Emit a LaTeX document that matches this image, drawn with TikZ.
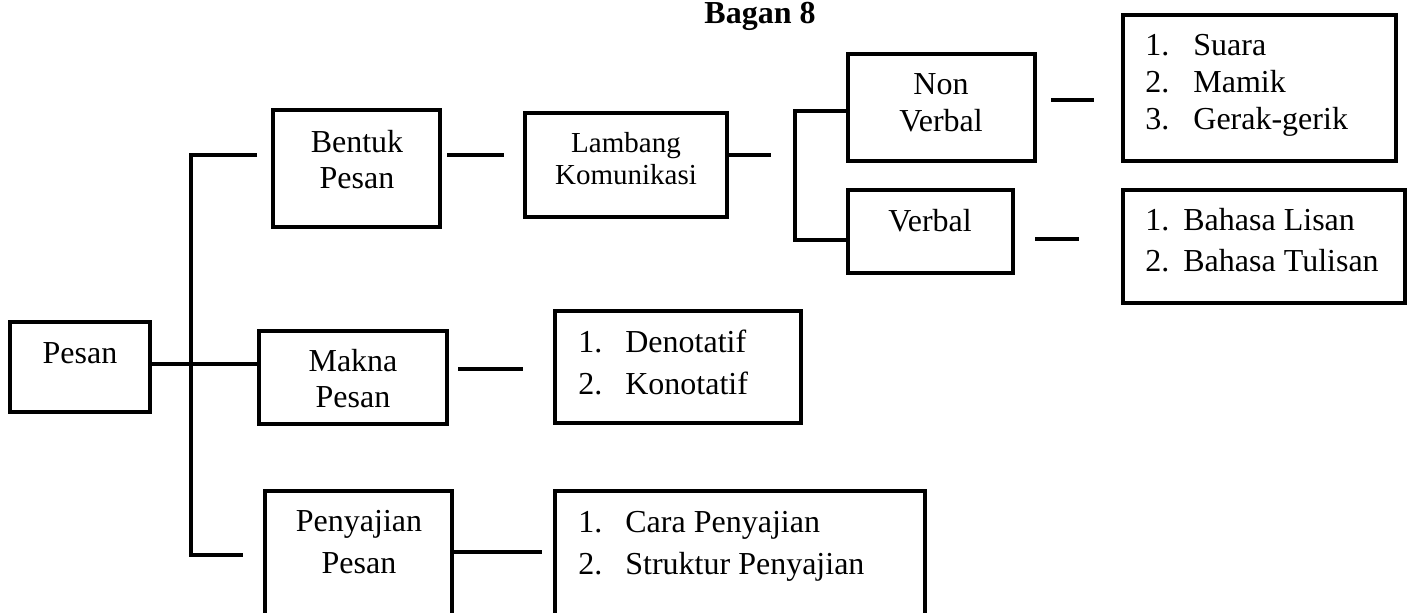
\documentclass[tikz,border=0pt]{standalone}
\usepackage{fontspec}
\setmainfont{Liberation Serif}
\begin{document}
\begin{tikzpicture}[x=0.5pt,y=-0.5pt,
  box/.style={draw, line width=2.3pt, inner sep=0pt, line join=miter},
  conn/.style={line width=2.3pt, line join=miter},
  ctxt/.style={inner sep=0pt, anchor=base},
  ltxt/.style={inner sep=0pt, anchor=base west}]
\useasboundingbox (0,0) rectangle (1409,612);

% title
\node[ctxt, font=\fontsize{16}{18}\selectfont\bfseries] (title) at (760,23) {Bagan 8};

% boxes
\node[box, minimum width=70pt, minimum height=45pt] (pesan) at (80,367) {};
\node[box, minimum width=83.5pt, minimum height=58.5pt] (bentuk) at (356.5,168.5) {};
\node[box, minimum width=101pt, minimum height=52pt] (lambang) at (626,165) {};
\node[box, minimum width=93.5pt, minimum height=53.5pt] (nonverbal) at (941.5,107.5) {};
\node[box, minimum width=82.5pt, minimum height=41.5pt] (verbal) at (930.5,231.5) {};
\node[box, minimum width=136.5pt, minimum height=73pt] (listnv) at (1259.5,88) {};
\node[box, minimum width=141pt, minimum height=56.5pt] (listv) at (1264,246.5) {};
\node[box, minimum width=94pt, minimum height=46.5pt] (makna) at (353,377.5) {};
\node[box, minimum width=93.5pt, minimum height=74.5pt] (penyajian) at (358.5,565.5) {};
\node[box, minimum width=123pt, minimum height=56pt] (listm) at (678,367) {};
\node[box, minimum width=185pt, minimum height=74.5pt] (listp) at (740,565.5) {};

% texts
\node[ctxt, font=\fontsize{16}{18}\selectfont] (pesan-t) at (80,363) {Pesan};
\node[ctxt, font=\fontsize{16}{18}\selectfont] (bentuk-t) at (357,152)
  {\begin{tabular}[t]{@{}c@{}}Bentuk\\Pesan\end{tabular}};
\node[ctxt, font=\fontsize{14.5}{16.25}\selectfont] (lambang-t) at (626,152)
  {\begin{tabular}[t]{@{}c@{}}Lambang\\Komunikasi\end{tabular}};
\node[ctxt, font=\fontsize{16}{18.5}\selectfont] (nonverbal-t) at (941,94)
  {\begin{tabular}[t]{@{}c@{}}Non\\Verbal\end{tabular}};
\node[ctxt, font=\fontsize{16}{18}\selectfont] (verbal-t) at (930,231) {Verbal};
\node[ctxt, font=\fontsize{16}{18}\selectfont] (makna-t) at (353,371)
  {\begin{tabular}[t]{@{}c@{}}Makna\\Pesan\end{tabular}};
\node[ctxt, font=\fontsize{16}{21}\selectfont] (penyajian-t) at (359,531)
  {\begin{tabular}[t]{@{}c@{}}Penyajian\\Pesan\end{tabular}};

\node[ltxt, font=\fontsize{16}{18.5}\selectfont] (listnv-t) at (1145,55)
  {\begin{tabular}[t]{@{}p{24pt}@{}l@{}}1.&Suara\\2.&Mamik\\3.&Gerak-gerik\end{tabular}};
\node[ltxt, font=\fontsize{16}{20.75}\selectfont] (listv-t) at (1145,230)
  {\begin{tabular}[t]{@{}p{19pt}@{}l@{}}1.&Bahasa Lisan\\2.&Bahasa Tulisan\end{tabular}};
\node[ltxt, font=\fontsize{16}{21}\selectfont] (listm-t) at (578,352)
  {\begin{tabular}[t]{@{}p{23.5pt}@{}l@{}}1.&Denotatif\\2.&Konotatif\end{tabular}};
\node[ltxt, font=\fontsize{16}{21}\selectfont] (listp-t) at (578,532)
  {\begin{tabular}[t]{@{}p{23.5pt}@{}l@{}}1.&Cara Penyajian\\2.&Struktur Penyajian\end{tabular}};

% connectors
\coordinate (tTopEnd) at (257,155);
\coordinate (tTop) at (191,155);
\coordinate (tBot) at (191,555);
\coordinate (tBotEnd) at (243,555);
\draw[conn] (tTopEnd) -- (tTop) -- (tBot) -- (tBotEnd);
\draw[conn] (pesan.east |- 0,364) -- (makna.west |- 0,364);

\coordinate (bl1) at (447,155);
\coordinate (bl2) at (504,155);
\draw[conn] (bl1) -- (bl2);

\coordinate (lb2) at (771,155);
\draw[conn] (lambang.east |- 0,155) -- (lb2);

\coordinate (bTop) at (795,111);
\coordinate (bBot) at (795,240);
\draw[conn] (nonverbal.west |- bTop) -- (bTop) -- (bBot) -- (verbal.west |- bBot);

\coordinate (nv1) at (1051,100);
\coordinate (nv2) at (1094,100);
\draw[conn] (nv1) -- (nv2);

\coordinate (v1) at (1035,239);
\coordinate (v2) at (1079,239);
\draw[conn] (v1) -- (v2);

\coordinate (m1) at (458,369);
\coordinate (m2) at (523,369);
\draw[conn] (m1) -- (m2);

\coordinate (p2) at (542,552);
\draw[conn] (penyajian.east |- p2) -- (p2);
\end{tikzpicture}
\end{document}
